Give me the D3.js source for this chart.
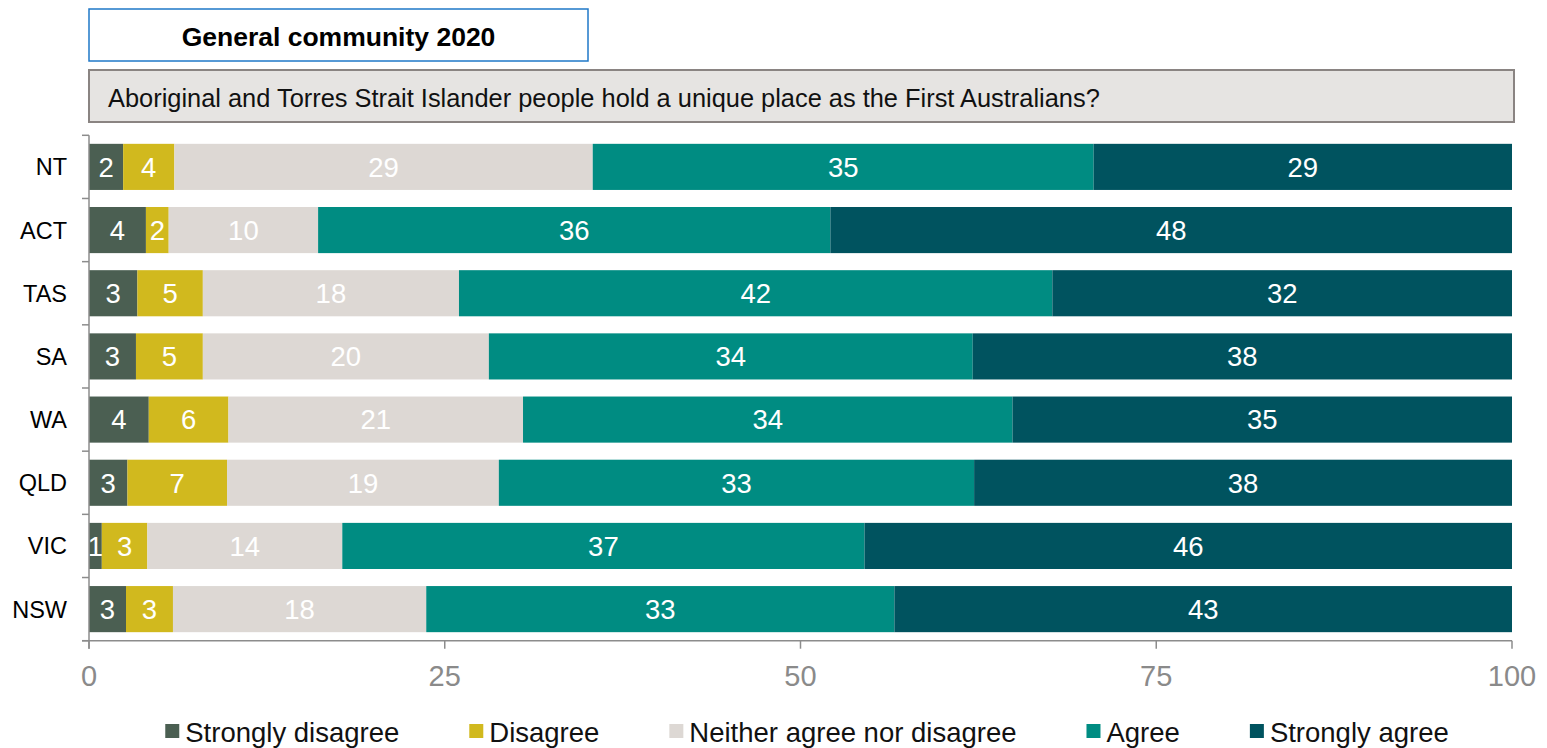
<!DOCTYPE html>
<html>
<head>
<meta charset="utf-8">
<script src="https://cdn.jsdelivr.net/npm/d3@7"></script>
<style>
  html, body { margin: 0; padding: 0; background: #fff; }
  svg { display: block; font-family: Arial, "Liberation Sans", sans-serif; }
</style>
</head>
<body>
<svg id="chart" width="1547" height="748"></svg>
<script>
// ---------- data ----------
const titleText = "General community 2020";
const questionText = "Aboriginal and Torres Strait Islander people hold a unique place as the First Australians?";
const states = ["NT", "ACT", "TAS", "SA", "WA", "QLD", "VIC", "NSW"];
const seriesNames = ["Strongly disagree", "Disagree", "Neither agree nor disagree", "Agree", "Strongly agree"];
const stronglyDisagree = [2.4, 4.0, 3.4, 3.3, 4.2, 2.7, 0.9, 2.6];
const disagree         = [3.6, 1.6, 4.6, 4.7, 5.6, 7.0, 3.2, 3.3];
const neither          = [29.4, 10.5, 18.0, 20.1, 20.7, 19.1, 13.7, 17.8];
const agree            = [35.2, 36.0, 41.7, 34.0, 34.4, 33.4, 36.7, 32.9];
const stronglyAgree    = [29.4, 47.9, 32.3, 37.9, 35.1, 37.8, 45.5, 43.4];
const dataLabels = [
  [2, 4, 29, 35, 29],
  [4, 2, 10, 36, 48],
  [3, 5, 18, 42, 32],
  [3, 5, 20, 34, 38],
  [4, 6, 21, 34, 35],
  [3, 7, 19, 33, 38],
  [1, 3, 14, 37, 46],
  [3, 3, 18, 33, 43]
];
const xTicks = [0, 25, 50, 75, 100];
const colors = ["#4b5f52", "#d1b91e", "#ddd8d4", "#008c82", "#00535f"];

// ---------- layout ----------
const svg = d3.select("#chart");
const plotL = 89, plotR = 1512, plotT = 135.3, plotB = 640.7;

const x = d3.scaleLinear().domain([0, 100]).range([plotL, plotR]);
const y = d3.scaleBand().domain(states).range([plotT, plotB]).paddingInner(0.27).paddingOuter(0.135);

const seriesValues = [stronglyDisagree, disagree, neither, agree, stronglyAgree];
const rows = states.map((s, i) => {
  const r = { state: s };
  seriesNames.forEach((n, k) => r[n] = seriesValues[k][i]);
  return r;
});
const stacked = d3.stack().keys(seriesNames)(rows);

// title box
svg.append("rect").attr("x", 89).attr("y", 9).attr("width", 499).attr("height", 52)
  .attr("fill", "#fff").attr("stroke", "#1f78c8").attr("stroke-width", 1.5);
svg.append("text").attr("x", 338.5).attr("y", 46).attr("text-anchor", "middle")
  .attr("font-size", 26.5).attr("font-weight", "bold").attr("fill", "#000").text(titleText);

// question box
svg.append("rect").attr("x", 89).attr("y", 70).attr("width", 1425).attr("height", 52)
  .attr("fill", "#e6e4e2").attr("stroke", "#8a8482").attr("stroke-width", 2);
svg.append("text").attr("x", 108).attr("y", 107)
  .attr("font-size", 25.4).attr("fill", "#111").text(questionText);

// bars
const g = svg.append("g");
stacked.forEach((layer, k) => {
  g.selectAll(null).data(layer).enter().append("rect")
    .attr("x", d => x(d[0]))
    .attr("y", d => y(d.data.state))
    .attr("width", d => x(d[1]) - x(d[0]))
    .attr("height", y.bandwidth())
    .attr("fill", colors[k]);
});
// labels
stacked.forEach((layer, k) => {
  g.selectAll(null).data(layer).enter().append("text")
    .attr("x", d => (x(d[0]) + x(d[1])) / 2)
    .attr("y", d => y(d.data.state) + y.bandwidth() / 2)
    .attr("dy", "0.36em")
    .attr("text-anchor", "middle")
    .attr("font-size", 27.5)
    .attr("fill", "#fff")
    .text((d, i) => dataLabels[i][k]);
});

// y axis
const axisColor = "#8c8c8c";
svg.append("line").attr("x1", plotL).attr("x2", plotL).attr("y1", plotT).attr("y2", plotB + 8)
  .attr("stroke", axisColor).attr("stroke-width", 1.5);
const boundaries = states.map(s => y(s) - y.step() * y.paddingInner() / 2);
boundaries.push(plotB);
boundaries[0] = plotT;
svg.selectAll(null).data(boundaries).enter().append("line")
  .attr("x1", plotL - 7).attr("x2", plotL).attr("y1", d => d).attr("y2", d => d)
  .attr("stroke", axisColor).attr("stroke-width", 1.5);
svg.selectAll(null).data(states).enter().append("text")
  .attr("x", 67).attr("y", d => y(d) + y.bandwidth() / 2).attr("dy", "0.36em")
  .attr("text-anchor", "end").attr("font-size", 23.5).attr("fill", "#000").text(d => d);

// x axis
svg.append("line").attr("x1", plotL - 7).attr("x2", plotR).attr("y1", plotB).attr("y2", plotB)
  .attr("stroke", axisColor).attr("stroke-width", 1.5);
svg.selectAll(null).data(xTicks).enter().append("line")
  .attr("x1", d => x(d)).attr("x2", d => x(d)).attr("y1", plotB).attr("y2", plotB + 8)
  .attr("stroke", axisColor).attr("stroke-width", 1.5);
svg.selectAll(null).data(xTicks).enter().append("text")
  .attr("x", d => x(d)).attr("y", 686).attr("text-anchor", "middle")
  .attr("font-size", 29).attr("fill", "#8a8a8a").text(d => d);

// legend
const lg = svg.append("g");
let cx = 0;
seriesNames.forEach((n, k) => {
  const item = lg.append("g").attr("transform", `translate(${cx},0)`);
  item.append("rect").attr("x", 0).attr("y", 724).attr("width", 14).attr("height", 14).attr("fill", colors[k]);
  const t = item.append("text").attr("x", 20).attr("y", 742).attr("font-size", 27.5).attr("fill", "#111").text(n);
  cx += 20 + t.node().getComputedTextLength() + 70;
});
const totalW = cx - 70;
lg.attr("transform", `translate(${807 - totalW / 2},0)`);
</script>
</body>
</html>
